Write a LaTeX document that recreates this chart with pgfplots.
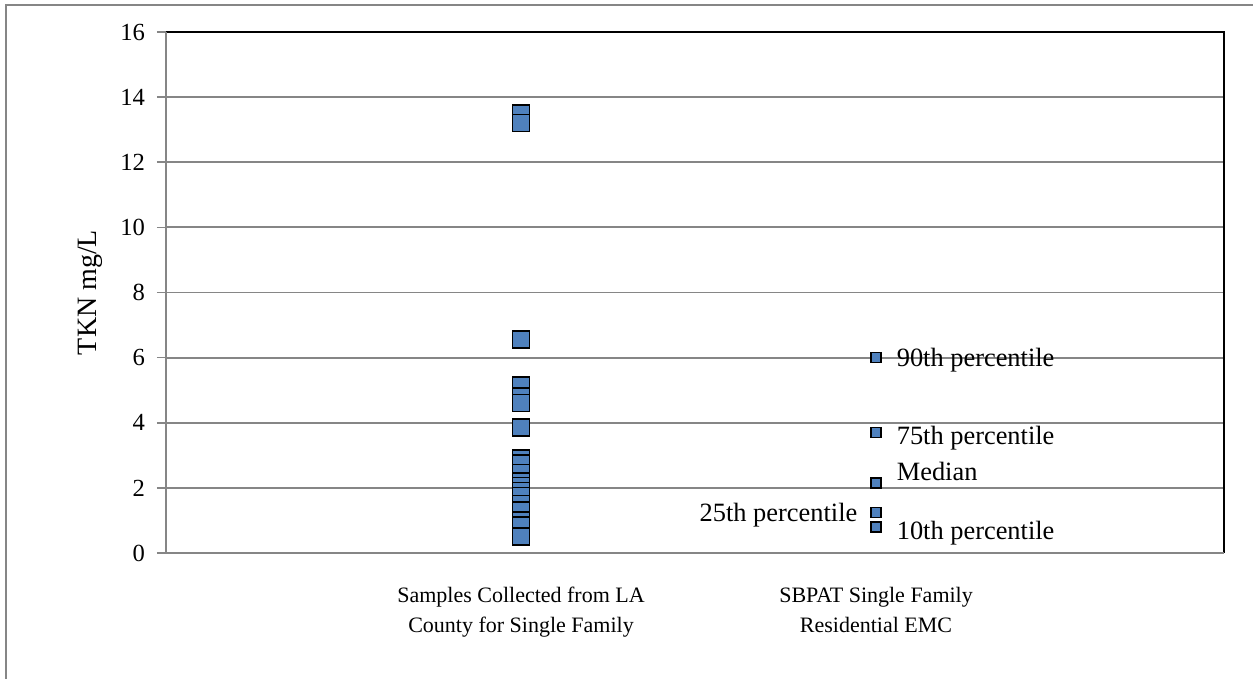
\documentclass[border=0pt]{standalone}
\usepackage{fontspec}
\setmainfont{Liberation Serif}
\usepackage{pgfplots}
\usepackage{pgfplotstable}
\pgfplotsset{compat=1.18}

\definecolor{exblue}{RGB}{79,129,189}
\definecolor{gridgray}{RGB}{134,134,134}

% TKN samples, LA County single family
\pgfplotstableread{
x y
1 13.5
1 13.2
1 6.55
1 5.15
1 4.8
1 4.6
1 3.85
1 2.9
1 2.75
1 2.45
1 2.2
1 2.05
1 1.9
1 1.75
1 1.5
1 1.3
1 1.0
1 0.85
1 0.5
}\samples

\pgfplotsset{
  emc/.style={only marks, mark=square*, mark size=2.5pt,
    mark options={fill=exblue, draw=black, line width=0.75pt},
    point meta=explicit symbolic, nodes near coords},
  lbl/.style 2 args={nodes near coords style={anchor=#1, inner sep=0pt,
    font=\fontsize{13.2}{15}\selectfont, text=black, #2}},
}

\begin{document}
\begin{tikzpicture}
\useasboundingbox (-83pt,-63pt) rectangle (543.5pt,276.5pt);
\draw[gridgray, line width=1pt] (-80pt,-70pt) -- (-80pt,274pt) -- (550pt,274pt);
\begin{axis}[
    at={(0,0)}, anchor=south west,
    scale only axis,
    width=529pt, height=260.5pt,
    xmin=0, xmax=2.98,
    ymin=0, ymax=16,
    ytick={0,2,...,16},
    xtick={1,2},
    xticklabels={{Samples Collected from LA\\County for Single Family},{SBPAT Single Family\\Residential EMC}},
    xticklabel style={align=center, font=\fontsize{11}{15}\selectfont, yshift=-9pt},
    yticklabel style={font=\fontsize{12.3}{14}\selectfont, xshift=-2.5pt},
    /pgf/number format/assume math mode=true,
    axis line style={draw=none},
    major x tick style={draw=none},
    ytick pos=left,
    tick align=outside,
    major tick length=4.5pt,
    y tick style={gridgray, line width=0.8pt},
    ymajorgrids,
    grid style={gridgray, line width=0.9pt},
    ylabel={TKN mg/L},
    ylabel style={at={(axis description cs:-0.0718,0.5)}, anchor=center, font=\fontsize{14}{16}\selectfont},
    clip=false,
]
\addplot[only marks, mark=square*, mark size=4.25pt,
    mark options={fill=exblue, draw=black, line width=0.75pt}]
    table[x=x, y=y] {\samples};
\addplot[emc, lbl={west}{xshift=10pt, yshift=-1.5pt}] coordinates {(2,6.0) [90th percentile]};
\addplot[emc, lbl={west}{xshift=10pt, yshift=-3pt}] coordinates {(2,3.7) [75th percentile]};
\addplot[emc, lbl={west}{xshift=10pt, yshift=6pt}] coordinates {(2,2.15) [Median]};
\addplot[emc, lbl={east}{xshift=-9pt, yshift=-1.5pt}] coordinates {(2,1.25) [25th percentile]};
\addplot[emc, lbl={west}{xshift=10pt, yshift=-3.2pt}] coordinates {(2,0.8) [10th percentile]};
\draw[black, line width=0.9pt] (rel axis cs:0,1) -- (rel axis cs:1,1) -- (rel axis cs:1,0);
\draw[gridgray, line width=0.9pt] (rel axis cs:0,0) -- (rel axis cs:0,1);
\draw[gridgray, line width=0.9pt] (rel axis cs:0,0) -- (rel axis cs:1,0);
\end{axis}
\end{tikzpicture}
\end{document}
